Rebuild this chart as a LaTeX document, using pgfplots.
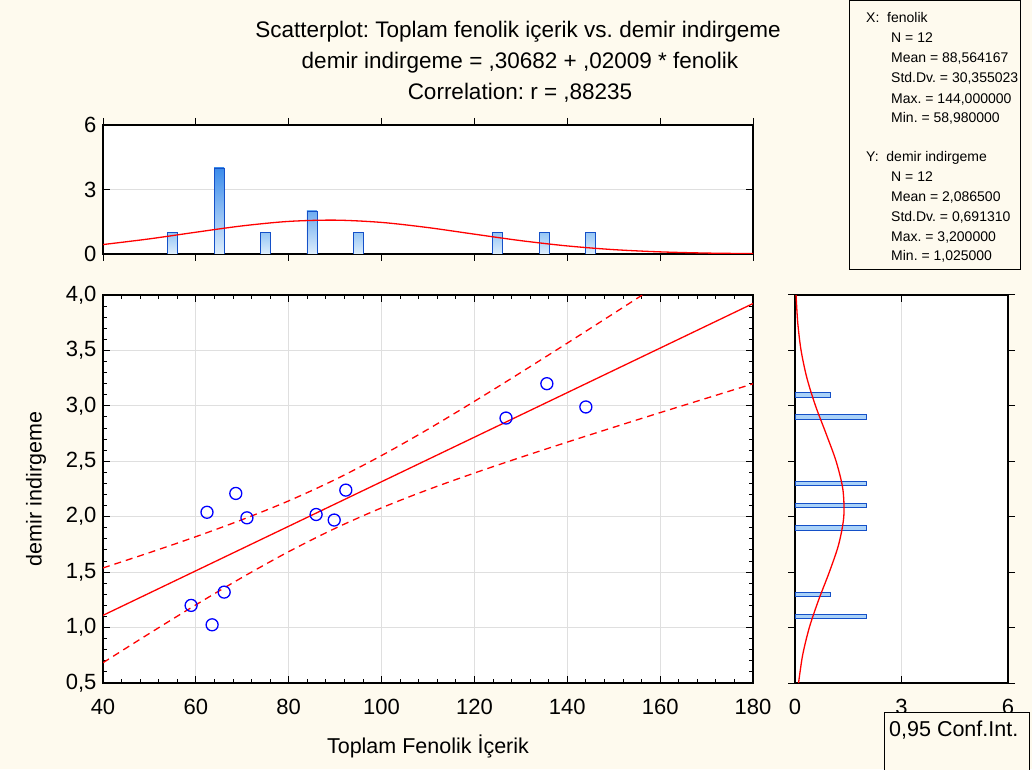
\documentclass[border=0pt]{standalone}
\usepackage{fontspec}
\setmainfont{Liberation Sans}
\usepackage{pgfplots}
\usepackage{pgfplotstable}
\pgfplotsset{compat=1.18}
\frenchspacing

\definecolor{bg}{RGB}{254,250,238}
\definecolor{barline}{RGB}{20,80,200}
\definecolor{barlow}{RGB}{222,238,252}
\definecolor{barfill}{RGB}{170,210,248}
\definecolor{fitred}{RGB}{255,0,0}
\definecolor{ptblue}{RGB}{0,0,255}

% scatter data: fenolik vs demir indirgeme
\pgfplotstableread{
x      y
58.98  1.20
62.4   2.04
63.5   1.025
66.1   1.32
68.6   2.21
71.0   1.99
85.9   2.02
89.8   1.97
92.3   2.24
126.8  2.89
135.6  3.20
144.0  2.99
}\scatterdata

% 0.95 confidence band of the fit
\pgfplotstableread{
x    lo     hi
40   0.683  1.538
50   0.947  1.676
60   1.205  1.820
70   1.453  1.974
80   1.685  2.143
90   1.895  2.335
100  2.080  2.552
110  2.244  2.789
120  2.394  3.041
130  2.536  3.301
140  2.673  3.566
150  2.807  3.834
160  2.939  4.104
170  3.069  4.375
180  3.199  4.648
}\band

\pgfplotsset{
  statframe/.style={
    scale only axis, anchor=south west,
    axis background/.style={fill=white},
    axis line style={line width=1.5pt},
    tick align=inside,
    major tick length=7pt, minor tick length=4pt,
    tick style={black, line width=1pt},
    grid style={gray!25, line width=1pt},
    tick label style={font=\fontsize{22}{22}\selectfont},
    /pgf/number format/assume math mode=true,
  },
}

\begin{document}
\begin{tikzpicture}[x=1pt,y=1pt]
\fill[bg] (0,0) rectangle (1032,769);
\useasboundingbox (0,0) rectangle (1032,769);

% titles
\begin{scope}[every node/.style={font=\fontsize{22.5}{22.5}\selectfont}]
\node at (518,737) {Scatterplot: Toplam fenolik içerik vs. demir indirgeme};
\node at (520,706) {demir indirgeme = ,30682 + ,02009 * fenolik};
\node at (520,676) {Correlation: r = ,88235};
\end{scope}

% main scatter
\begin{axis}[statframe, at={(103pt,86pt)}, width=650pt, height=388pt,
  xmin=40, xmax=180, ymin=0.5, ymax=4,
  xtick={40,60,...,180}, ytick={0.5,1.0,...,4.0},
  minor x tick num=4, minor y tick num=4,
  grid=major,
  yticklabel style={/pgf/number format/fixed, /pgf/number format/fixed zerofill,
    /pgf/number format/precision=1, /pgf/number format/use comma, xshift=-3pt},
  xticklabel style={yshift=-13pt},
  every axis x label/.style={at={(axis description cs:0.5,-0.1624)}, anchor=center,
    font=\fontsize{21.5}{21.5}\selectfont},
  every axis y label/.style={at={(axis description cs:-0.1031,0.5)}, anchor=center, rotate=90,
    font=\fontsize{21.5}{21.5}\selectfont},
  xlabel={Toplam Fenolik İçerik}, ylabel={demir indirgeme}]
\addplot[fitred, line width=1.3pt] coordinates {(40,1.1104) (180,3.9230)};
\addplot[fitred, line width=1.3pt, dash pattern=on 7pt off 5pt, smooth] table[x=x, y=hi] {\band};
\addplot[fitred, line width=1.3pt, dash pattern=on 7pt off 5pt, smooth] table[x=x, y=lo] {\band};
\addplot[only marks, mark=o, mark size=6pt, ptblue, line width=1.3pt] table[x=x, y=y] {\scatterdata};
\end{axis}

% top histogram of fenolik
\begin{axis}[statframe, at={(103pt,515pt)}, width=650pt, height=129pt,
  xmin=40, xmax=180, ymin=0, ymax=6,
  xtick={40,60,...,180}, xticklabels={}, ytick={0,3,6},
  ymajorgrids, yticklabel style={xshift=-3pt},
  ybar, bar width=10pt, bar shift=0pt]
\addplot[draw=barline, line width=0.8pt, top color={rgb,255:red,150;green,198;blue,245}, bottom color=barlow] coordinates {(55,1) (75,1) (95,1) (125,1) (135,1) (145,1)};
\addplot[draw=barline, line width=0.8pt, top color={rgb,255:red,110;green,172;blue,240}, bottom color=barlow] coordinates {(85,2)};
\addplot[draw=barline, line width=0.8pt, top color={rgb,255:red,60;green,140;blue,235}, bottom color=barlow] coordinates {(65,4)};
\addplot[sharp plot, fitred, line width=1.3pt, smooth] coordinates {
 (40,0.439) (50,0.704) (60,1.013) (70,1.308) (80,1.516) (90,1.575) (100,1.469)
 (110,1.229) (120,0.922) (130,0.621) (140,0.375) (150,0.203) (160,0.099)
 (170,0.043) (180,0.017)};
\end{axis}

% right histogram of demir indirgeme
\begin{axis}[statframe, at={(795pt,86pt)}, width=213pt, height=388pt,
  xmin=0, xmax=6, ymin=0.5, ymax=4,
  xtick={0,3,6}, ytick={0.5,1.0,...,4.0}, yticklabels={},
  xmajorgrids, xticklabel style={yshift=-13pt},
  xbar, bar width=4.5pt, bar shift=0pt]
\addplot[draw=barline, line width=0.9pt, fill=barfill] coordinates {
 (2,1.1) (1,1.3) (2,1.9) (2,2.1) (2,2.3) (2,2.9) (1,3.1)};
\addplot[sharp plot, fitred, line width=1.3pt, smooth] coordinates {
 (0.100,0.5) (0.214,0.75) (0.403,1.0) (0.666,1.25) (0.966,1.5) (1.230,1.75)
 (1.374,2.0) (1.347,2.25) (1.158,2.5) (0.874,2.75) (0.578,3.0) (0.336,3.25)
 (0.171,3.5) (0.077,3.75) (0.030,4.0)};
\end{axis}

% descriptive statistics box
\draw[line width=1pt, fill=bg] (849,499) rectangle (1020,768);
\begin{scope}
\clip (849,499) rectangle (1019,768);
\begin{scope}[every node/.style={anchor=base west, inner sep=0pt, font=\fontsize{14}{14}\selectfont}]
\node at (866,746) {X:\ \ fenolik};
\node at (891,726) {N = 12};
\node at (891,706) {Mean = 88,564167};
\node at (891,686) {Std.Dv. = 30,355023};
\node at (891,665) {Max. = 144,000000};
\node at (891,646) {Min. = 58,980000};
\node at (866,607) {Y:\ \ demir indirgeme};
\node at (891,587) {N = 12};
\node at (891,567) {Mean = 2,086500};
\node at (891,547) {Std.Dv. = 0,691310};
\node at (891,527) {Max. = 3,200000};
\node at (891,508) {Min. = 1,025000};
\end{scope}
\end{scope}

% legend box
\draw[line width=1pt, fill=bg] (884,-5) rectangle (1029,57);
\node[anchor=west, font=\fontsize{21.5}{21.5}\selectfont, inner sep=0pt] at (889,39) {0,95 Conf.Int.};
\end{tikzpicture}
\end{document}
